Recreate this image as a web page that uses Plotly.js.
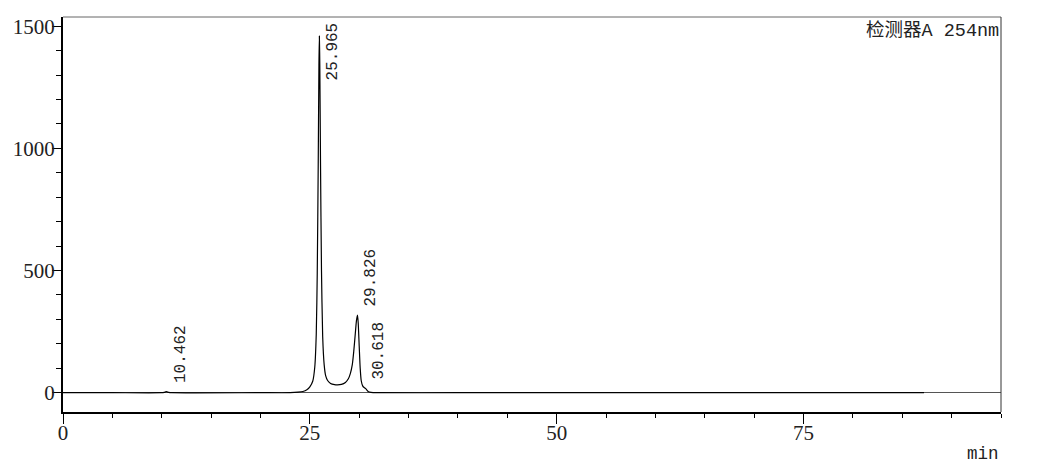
<!DOCTYPE html>
<html>
<head>
<meta charset="utf-8">
<script src="https://cdn.plot.ly/plotly-3.0.1.min.js"></script>
<style>html,body{margin:0;padding:0;background:#fff;}#chart{width:1037px;height:465px;}</style>
</head>
<body>
<div id="chart"></div>
<script>
// Chromatogram trace (time in min, signal)
const timeMin = [0, 5, 10.0, 10.25, 10.462, 10.7, 11.0, 20, 23.0, 23.8, 24.3, 24.7, 25.0, 25.3, 25.5, 25.65, 25.75, 25.85, 25.92, 25.965, 26.01, 26.08, 26.18, 26.3, 26.45, 26.6, 26.8, 27.1, 27.5, 27.8, 28.2, 28.6, 28.9, 29.1, 29.3, 29.45, 29.6, 29.72, 29.826, 29.9, 30.0, 30.1, 30.2, 30.35, 30.5, 30.618, 30.75, 30.9, 31.2, 32.0, 40, 60, 80, 87.2];
const signal  = [0, 0, 0, 1.5, 4, 1.5, 0, 0, 0, 2, 5, 12, 24, 48, 105, 240, 490, 940, 1340, 1460, 1340, 940, 500, 230, 115, 70, 50, 38, 33, 32, 34, 42, 57, 78, 115, 170, 240, 295, 318, 285, 190, 100, 50, 28, 21, 18, 12, 5, 1, 0, 0, 0, 0, 0];

// Peak labels
const peakTimes   = [10.462, 25.965, 29.826, 30.618];
const peakHeights = [4, 1460, 318, 18];
const peakLabels  = ['10.462', '25.965', '29.826', '30.618'];

const xTickVals = [0, 25, 50, 75];
const yTickVals = [0, 500, 1000, 1500];

const monoFont = '"Liberation Mono", "Noto Sans CJK SC", monospace';
const serifFont = '"Liberation Serif", "DejaVu Serif", serif';

const annotations = peakTimes.map((t, i) => ({
  x: t, y: peakHeights[i], xref: 'x', yref: 'y',
  text: peakLabels[i], showarrow: false, textangle: -90,
  xanchor: 'center', yanchor: 'middle',
  xshift: 14, yshift: (i === 1 ? -15 : 38),
  font: {family: monoFont, size: 16, color: '#222'}
}));
annotations.push({
  x: 1, y: 1, xref: 'paper', yref: 'paper', xanchor: 'right', yanchor: 'top',
  yshift: -1, text: '检测器A 254nm', showarrow: false,
  font: {family: monoFont, size: 18.5, color: '#222'}
});
annotations.push({
  x: 1, y: 0, xref: 'paper', yref: 'paper', xanchor: 'right', yanchor: 'middle',
  yshift: -42, text: 'min', showarrow: false,
  font: {family: monoFont, size: 17.5, color: '#222'}
});

const trace = {
  x: timeMin, y: signal, type: 'scatter', mode: 'lines',
  line: {color: '#000', width: 1.2, shape: 'spline', smoothing: 0.6},
  hoverinfo: 'skip'
};

const layout = {
  width: 1037, height: 465,
  margin: {l: 63, r: 36, t: 17, b: 53},
  paper_bgcolor: '#fff', plot_bgcolor: '#fff',
  showlegend: false,
  xaxis: {
    range: [0, 95], tickvals: xTickVals, ticktext: xTickVals.map(String),
    ticks: 'outside', ticklen: 10, tickwidth: 1, tickcolor: '#000',
    ticklabelstandoff: -9,
    minor: {dtick: 5, tick0: 0, ticks: 'outside', ticklen: 4, tickcolor: '#000', tickwidth: 1, showgrid: false},
    showgrid: false, zeroline: false,
    showline: true, linecolor: '#000', linewidth: 2,
    tickfont: {family: serifFont, size: 21, color: '#222'},
    fixedrange: true
  },
  yaxis: {
    range: [-79, 1538], tickvals: yTickVals, ticktext: yTickVals.map(String),
    ticks: 'outside', ticklen: 9, tickwidth: 1, tickcolor: '#000',
    ticklabelstandoff: -7,
    minor: {dtick: 100, tick0: 0, ticks: 'outside', ticklen: 5, tickcolor: '#000', tickwidth: 1, showgrid: false},
    showgrid: false, zeroline: true, zerolinecolor: '#555', zerolinewidth: 1,
    showline: true, linecolor: '#000', linewidth: 2,
    tickfont: {family: serifFont, size: 21, color: '#222'},
    fixedrange: true
  },
  shapes: [
    {type: 'line', xref: 'paper', yref: 'paper', x0: 0, x1: 1, y0: 1, y1: 1, line: {color: '#666', width: 1}},
    {type: 'line', xref: 'paper', yref: 'paper', x0: 1, x1: 1, y0: 0, y1: 1, line: {color: '#333', width: 1}}
  ],
  annotations: annotations
};

Plotly.newPlot('chart', [trace], layout, {staticPlot: true, displayModeBar: false});
</script>
</body>
</html>
